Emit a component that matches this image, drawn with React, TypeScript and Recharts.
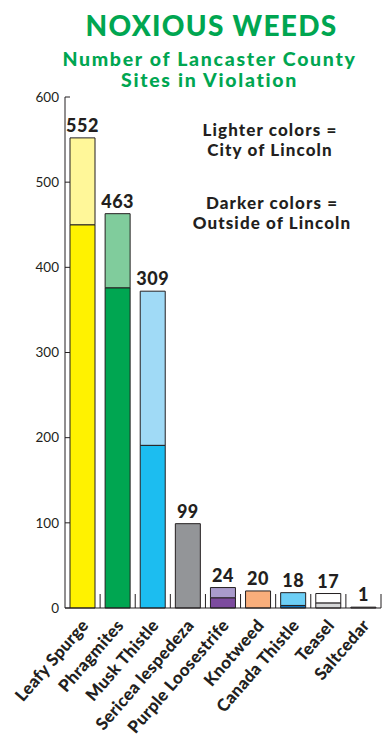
import { BarChart, Bar, XAxis, YAxis, Cell, LabelList } from 'recharts';

const categories = [
  'Leafy Spurge',
  'Phragmites',
  'Musk Thistle',
  'Sericea lespedeza',
  'Purple Loosestrife',
  'Knotweed',
  'Canada Thistle',
  'Teasel',
  'Saltcedar',
];

// sites outside Lincoln (darker) and inside city (lighter), as drawn
const outsideValues = [450, 376, 191, 0, 12, 0, 3, 6, 0];
const cityValues = [102, 87, 181, 99, 12, 20, 15, 11, 1];
// totals as printed over the bars
const totalLabels = ['552', '463', '309', '99', '24', '20', '18', '17', '1'];

const darkColors = ['#fff200', '#00a651', '#1cbdf0', '#939598', '#7c4b9e', '#f9ae7b', '#0f72ba', '#d6d7d8', '#231f20'];
const lightColors = ['#fff799', '#80cc9c', '#a0daf6', '#939598', '#a99bcc', '#f9ae7b', '#6dcff6', '#ffffff', '#ffffff'];

const yTicks = [0, 100, 200, 300, 400, 500, 600];

const data = categories.map((name, i) => ({
  name,
  outside: outsideValues[i],
  city: cityValues[i],
}));

const W = 383;
const H = 741;
const AXIS_W = 65;
const RIGHT = 2;
const BAND = (W - AXIS_W - RIGHT) / categories.length;
const INK = '#231f20';
const FONT = 'Lato, "Open Sans", sans-serif';

const XTick = (props: any) => {
  const { x, y, payload } = props;
  return (
    <g transform={`translate(${x},${y})`}>
      <line x1={BAND / 2} y1={0} x2={BAND / 2} y2={-14} stroke={INK} strokeWidth={1} />
      <text
        x={7}
        y={18}
        transform="rotate(-49 7 18)"
        textAnchor="end"
        fontFamily={FONT}
        fontWeight={900}
        fontSize={17}
        letterSpacing={0.3}
        fill={INK}
      >
        {payload.value}
      </text>
    </g>
  );
};

const YTick = (props: any) => {
  const { x, y, payload } = props;
  return (
    <g>
      <line x1={x + 6} y1={y} x2={x + 11} y2={y} stroke={INK} strokeWidth={1} />
      <text x={x} y={y} dy="0.35em" textAnchor="end" fontFamily={FONT} fontSize={13.5} fill={INK}>
        {payload.value}
      </text>
    </g>
  );
};

const TotalLabel = (props: any) => {
  const { x, y, width, index } = props;
  return (
    <text
      x={x + width / 2}
      y={y - 6}
      textAnchor="middle"
      fontFamily={FONT}
      fontWeight={900}
      fontSize={18}
      letterSpacing={0.5}
      fill={INK}
    >
      {totalLabels[index]}
    </text>
  );
};

const legendStyle: React.CSSProperties = {
  position: 'absolute',
  left: 170,
  width: 200,
  textAlign: 'center',
  color: INK,
  fontWeight: 900,
  fontSize: 17,
  lineHeight: '20px',
  letterSpacing: 1.1,
};

const subStyle: React.CSSProperties = {
  position: 'absolute',
  left: 38,
  width: 343,
  textAlign: 'center',
  color: '#00a651',
  fontWeight: 900,
  fontSize: 19.5,
  lineHeight: '20px',
  letterSpacing: 1.7,
};

export default function App() {
  return (
    <div style={{ position: 'absolute', left: 0, top: 0, width: W, height: H, background: '#fff', fontFamily: FONT }}>
      <div
        style={{
          position: 'absolute',
          top: 10,
          left: 40,
          width: 343,
          textAlign: 'center',
          color: '#00a651',
          fontWeight: 900,
          fontSize: 28,
          lineHeight: '30px',
          letterSpacing: 1.3,
        }}
      >
        NOXIOUS WEEDS
      </div>
      <div style={{ ...subStyle, top: 49 }}>Number of Lancaster County</div>
      <div style={{ ...subStyle, top: 70 }}>Sites in Violation</div>
      <div style={{ ...legendStyle, top: 120 }}>
        Lighter colors =
        <br />
        City of Lincoln
      </div>
      <div style={{ ...legendStyle, top: 193, left: 172 }}>
        Darker colors =
        <br />
        Outside of Lincoln
      </div>
      <div style={{ position: 'absolute', left: 0, top: 0 }}>
        <BarChart
          width={W}
          height={H}
          data={data}
          margin={{ top: 97, right: RIGHT, bottom: 13, left: 0 }}
          barSize={25}
        >
          <XAxis
            dataKey="name"
            interval={0}
            height={120}
            tickLine={false}
            tickSize={0}
            tickMargin={0}
            axisLine={{ stroke: INK }}
            tick={<XTick />}
          />
          <YAxis
            width={AXIS_W}
            domain={[0, 600]}
            ticks={yTicks}
            interval={0}
            tickLine={false}
            tickSize={0}
            tickMargin={6}
            axisLine={{ stroke: INK }}
            tick={<YTick />}
          />
          <Bar dataKey="outside" stackId="a" stroke={INK} strokeWidth={1} isAnimationActive={false}>
            {data.map((_, i) => (
              <Cell key={`o-${i}`} fill={darkColors[i]} />
            ))}
          </Bar>
          <Bar dataKey="city" stackId="a" stroke={INK} strokeWidth={1} isAnimationActive={false}>
            {data.map((_, i) => (
              <Cell key={`c-${i}`} fill={lightColors[i]} />
            ))}
            <LabelList dataKey="city" content={<TotalLabel />} />
          </Bar>
        </BarChart>
      </div>
    </div>
  );
}
